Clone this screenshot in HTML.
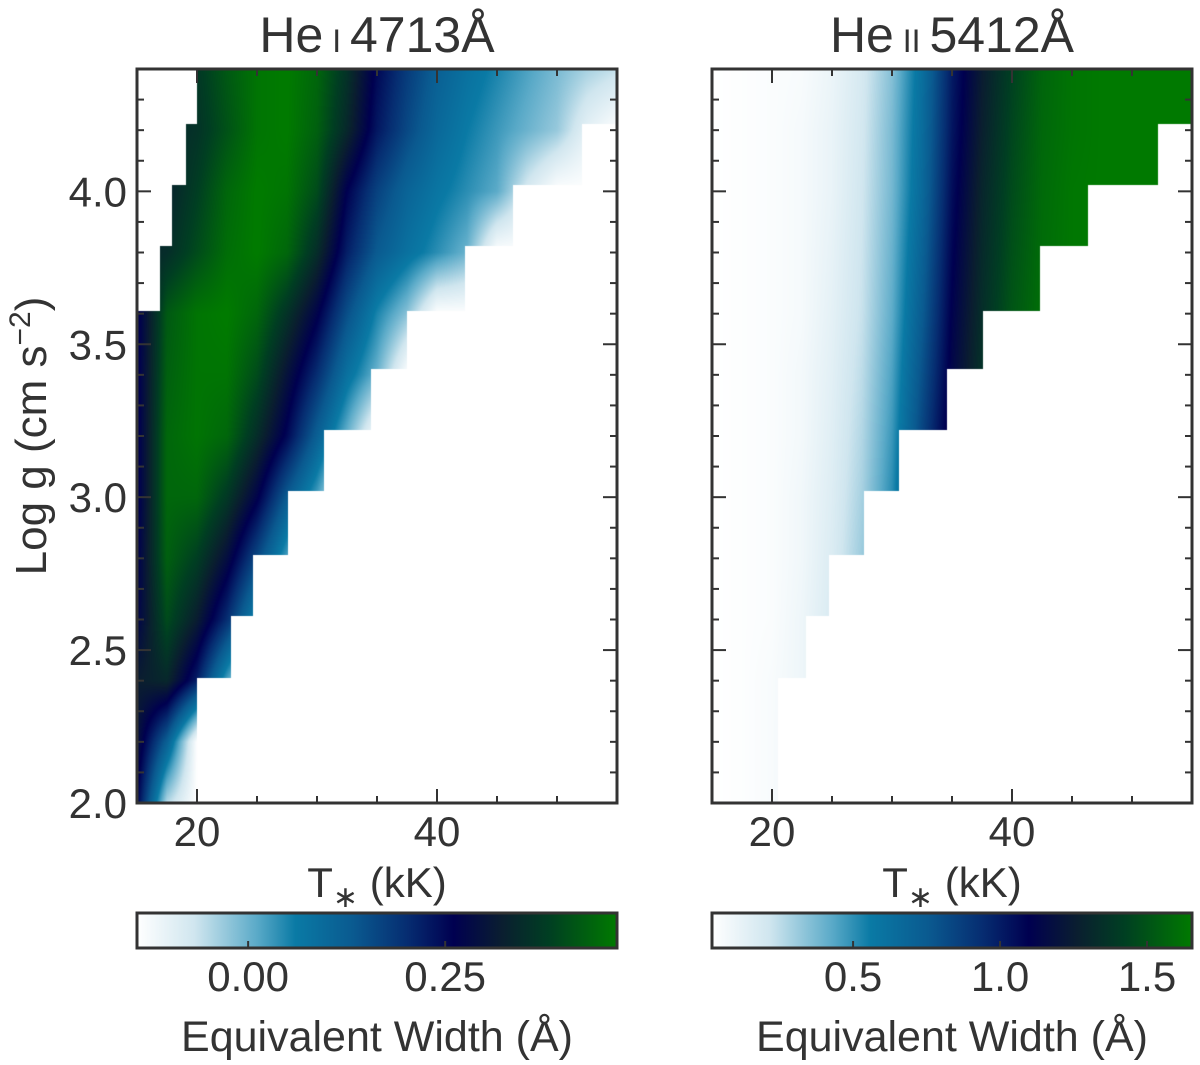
<!DOCTYPE html>
<html><head><meta charset="utf-8">
<style>
html,body{margin:0;padding:0;background:#fff;}
#wrap{position:relative;width:1200px;height:1065px;overflow:hidden;font-family:"Liberation Sans",sans-serif;}
canvas{position:absolute;}
svg{position:absolute;left:0;top:0;}
</style></head>
<body>
<div id="wrap">
<canvas id="cL" width="480" height="734" style="left:137px;top:69px"></canvas>
<canvas id="cR" width="480" height="734" style="left:712px;top:69px"></canvas>
<svg id="svg" width="1200" height="1065" xmlns="http://www.w3.org/2000/svg">
<defs>
<linearGradient id="cmap" x1="0" x2="1" y1="0" y2="0">
<stop offset="0" stop-color="#ffffff"/><stop offset="0.12" stop-color="#d0e6ef"/><stop offset="0.25" stop-color="#5aaac8"/>
<stop offset="0.33" stop-color="#0a7aa5"/><stop offset="0.45" stop-color="#0a5a90"/><stop offset="0.56" stop-color="#062e72"/>
<stop offset="0.66" stop-color="#000050"/><stop offset="0.76" stop-color="#0a1e30"/><stop offset="0.86" stop-color="#003f22"/>
<stop offset="1" stop-color="#007a00"/>
</linearGradient>
</defs>
<g font-family="Liberation Sans, sans-serif" fill="#333">
<text x="377" y="52" font-size="50" text-anchor="middle">He<tspan font-size="32"> I </tspan>4713Å</text>
<text x="952" y="52" font-size="50" text-anchor="middle">He<tspan font-size="32"> II </tspan>5412Å</text>
<text transform="translate(46,436) rotate(-90)" font-size="44" text-anchor="middle">Log g (cm s<tspan dy="-16" font-size="30">−2</tspan><tspan dy="16">)</tspan></text>
<text x="377" y="897" font-size="42" text-anchor="middle">T<tspan dy="10" font-size="30">∗</tspan><tspan dy="-10"> (kK)</tspan></text>
<text x="952" y="897" font-size="42" text-anchor="middle">T<tspan dy="10" font-size="30">∗</tspan><tspan dy="-10"> (kK)</tspan></text>
<text x="377" y="1051" font-size="43" text-anchor="middle">Equivalent Width (Å)</text>
<text x="952" y="1051" font-size="43" text-anchor="middle">Equivalent Width (Å)</text>
</g>
<g id="axes"></g>
</svg>
</div>
<script>
// ---- data ----
const tempsKK = [15,17.5,20,22.5,25,27.5,30,32.5,35,37.5,40,42.5,45,47.5,50,52.5,55];
const loggRows = [2.0,2.2,2.4,2.6,2.8,3.0,3.2,3.4,3.6,3.8,4.0,4.2,4.4];
const ewHeI = [
[0.26,-0.05,-0.14,-0.14,-0.14,-0.14,-0.14,-0.14,-0.14,-0.14,-0.14,-0.14,-0.14,-0.14,-0.14,-0.14,-0.14],
[0.30,0.12,-0.14,-0.14,-0.14,-0.14,-0.14,-0.14,-0.14,-0.14,-0.14,-0.14,-0.14,-0.14,-0.14,-0.14,-0.14],
[0.32,0.34,0.22,0.02,-0.14,-0.14,-0.14,-0.14,-0.14,-0.14,-0.14,-0.14,-0.14,-0.14,-0.14,-0.14,-0.14],
[0.27,0.40,0.32,0.20,0.04,-0.14,-0.14,-0.14,-0.14,-0.14,-0.14,-0.14,-0.14,-0.14,-0.14,-0.14,-0.14],
[0.26,0.43,0.38,0.29,0.16,0.02,-0.14,-0.14,-0.14,-0.14,-0.14,-0.14,-0.14,-0.14,-0.14,-0.14,-0.14],
[0.25,0.44,0.44,0.37,0.27,0.13,0.02,-0.14,-0.14,-0.14,-0.14,-0.14,-0.14,-0.14,-0.14,-0.14,-0.14],
[0.25,0.44,0.46,0.44,0.35,0.25,0.12,0.00,-0.14,-0.14,-0.14,-0.14,-0.14,-0.14,-0.14,-0.14,-0.14],
[0.25,0.43,0.46,0.46,0.40,0.30,0.20,0.08,0.00,-0.14,-0.14,-0.14,-0.14,-0.14,-0.14,-0.14,-0.14],
[0.25,0.42,0.46,0.47,0.44,0.36,0.27,0.15,0.05,-0.02,-0.14,-0.14,-0.14,-0.14,-0.14,-0.14,-0.14],
[0.33,0.35,0.40,0.45,0.47,0.44,0.35,0.22,0.13,0.08,0.04,0.00,-0.14,-0.14,-0.14,-0.14,-0.14],
[0.33,0.33,0.38,0.44,0.47,0.46,0.40,0.26,0.17,0.11,0.07,0.04,0.01,-0.08,-0.14,-0.14,-0.14],
[0.33,0.34,0.36,0.41,0.46,0.47,0.43,0.34,0.23,0.16,0.10,0.06,0.03,0.00,-0.03,-0.10,-0.14],
[0.33,0.34,0.37,0.42,0.46,0.47,0.44,0.36,0.25,0.18,0.12,0.08,0.05,0.02,-0.01,-0.04,-0.06]
];
const ewHeII = [
[0.02,0.03,0.05,0.10,0.20,0.36,0.62,1.00,1.25,1.42,1.55,1.62,1.64,1.65,1.65,1.65,1.65],
[0.02,0.03,0.05,0.10,0.19,0.35,0.60,0.98,1.24,1.41,1.55,1.62,1.64,1.65,1.65,1.65,1.65],
[0.02,0.03,0.05,0.09,0.18,0.34,0.58,0.96,1.23,1.41,1.55,1.62,1.64,1.65,1.65,1.65,1.65],
[0.02,0.03,0.04,0.09,0.18,0.32,0.56,0.94,1.22,1.40,1.54,1.62,1.64,1.65,1.65,1.65,1.65],
[0.02,0.03,0.04,0.08,0.17,0.31,0.54,0.92,1.21,1.40,1.54,1.62,1.64,1.65,1.65,1.65,1.65],
[0.02,0.03,0.04,0.08,0.16,0.29,0.51,0.88,1.19,1.39,1.53,1.62,1.64,1.65,1.65,1.65,1.65],
[0.02,0.03,0.04,0.07,0.15,0.27,0.48,0.84,1.17,1.38,1.53,1.61,1.64,1.65,1.65,1.65,1.65],
[0.02,0.03,0.04,0.07,0.14,0.25,0.45,0.79,1.14,1.36,1.52,1.61,1.64,1.65,1.65,1.65,1.65],
[0.02,0.03,0.04,0.06,0.13,0.23,0.42,0.74,1.11,1.34,1.51,1.61,1.64,1.65,1.65,1.65,1.65],
[0.02,0.03,0.04,0.06,0.12,0.22,0.40,0.70,1.08,1.32,1.49,1.60,1.64,1.65,1.65,1.65,1.65],
[0.02,0.03,0.04,0.06,0.11,0.21,0.38,0.66,1.05,1.30,1.47,1.59,1.64,1.65,1.65,1.65,1.65],
[0.02,0.03,0.04,0.06,0.11,0.20,0.37,0.64,1.02,1.27,1.45,1.58,1.63,1.65,1.65,1.65,1.65],
[0.02,0.03,0.04,0.05,0.10,0.19,0.35,0.62,1.00,1.25,1.43,1.57,1.63,1.65,1.65,1.65,1.65]
];
const bandEdges = [2.0,2.41,2.61,2.81,3.02,3.22,3.42,3.61,3.82,4.02,4.22,4.41];
const heiTmin = [15,15,15,15,15,15,15,16.9,17.9,19.1,20];
const heiTmax = [20,22.8,24.7,27.6,30.6,34.5,37.5,42.3,46.3,52.1,55];
const heiiTmin = [15,15,15,15,15,15,15,15,15,15,15];
const heiiTmax = [20.5,22.8,24.75,27.7,30.6,34.6,37.6,42.3,46.3,52.2,55];
const xTicksMajor = [20,40];
const xTicksMinor = [25,30,35,45,50];
const yTickLabels = ["2.0","2.5","3.0","3.5","4.0"];
const cbLeftTicks = [0.00,0.25];
const cbLeftLabels = ["0.00","0.25"];
const cbRightTicks = [0.5,1.0,1.5];
const cbRightLabels = ["0.5","1.0","1.5"];
const heiRange = [-0.141,0.468];
const heiiRange = [0.02,1.653];

// ---- scales ----
const T0=15,T1=55,G0=2.0,G1=4.4,W=480,H=734;
const px = T => (T-T0)/(T1-T0)*W;
const py = g => H-(g-G0)/(G1-G0)*H;
const xL = T => 137+px(T), xR = T => 712+px(T), yS = g => 69+py(g);

const stops=[[0,"#ffffff"],[0.12,"#d0e6ef"],[0.25,"#5aaac8"],[0.33,"#0a7aa5"],[0.45,"#0a5a90"],[0.56,"#062e72"],[0.66,"#000050"],[0.76,"#0a1e30"],[0.86,"#003f22"],[1,"#007a00"]]
 .map(s=>[s[0],[1,3,5].map(i=>parseInt(s[1].substr(i,2),16))]);
function cmap(f){f=Math.max(0,Math.min(1,f));for(let i=1;i<stops.length;i++){if(f<=stops[i][0]){const a=stops[i-1],b=stops[i],t=(f-a[0])/(b[0]-a[0]);return a[1].map((v,k)=>v+(b[1][k]-v)*t);}}return stops[stops.length-1][1];}
function interp(grid,T,g){
  let ci=(T-tempsKK[0])/(tempsKK[1]-tempsKK[0]), ri=(g-loggRows[0])/(loggRows[1]-loggRows[0]);
  ci=Math.max(0,Math.min(tempsKK.length-1.0001,ci)); ri=Math.max(0,Math.min(loggRows.length-1.0001,ri));
  const c=Math.floor(ci),r=Math.floor(ri),fc=ci-c,fr=ri-r;
  const a=grid[r][c]*(1-fc)+grid[r][c+1]*fc, b=grid[r+1][c]*(1-fc)+grid[r+1][c+1]*fc;
  return a*(1-fr)+b*fr;
}
function drawPanel(id,grid,tmin,tmax,range){
  const ctx=document.getElementById(id).getContext('2d');const img=ctx.createImageData(W,H);
  for(let y=0;y<H;y++){const g=G0+(H-y-0.5)/H*(G1-G0);
    let band=0;while(band<bandEdges.length-2&&g>=bandEdges[band+1])band++;
    for(let x=0;x<W;x++){const T=T0+(x+0.5)/W*(T1-T0);const o=(y*W+x)*4;
      let col=[255,255,255];
      if(T>=tmin[band]&&T<=tmax[band]){const v=interp(grid,T,g);col=cmap((v-range[0])/(range[1]-range[0]));}
      img.data[o]=col[0];img.data[o+1]=col[1];img.data[o+2]=col[2];img.data[o+3]=255;}}
  ctx.putImageData(img,0,0);
}
drawPanel('cL',ewHeI,heiTmin,heiTmax,heiRange);
drawPanel('cR',ewHeII,heiiTmin,heiiTmax,heiiRange);

// ---- axes ----
const NS="http://www.w3.org/2000/svg", axes=document.getElementById('axes');
function mk(tag,attrs,parent){const e=document.createElementNS(NS,tag);for(const k in attrs)e.setAttribute(k,attrs[k]);(parent||axes).appendChild(e);return e;}
function line(x1,y1,x2,y2,w){return mk('line',{x1,y1,x2,y2,stroke:'#333','stroke-width':w||2});}
function panelAxes(x0,xf,labels,prefix){
  for(const T of xTicksMajor){const x=xf(T);
    const t1=line(x,803,x,789);
    
    
    line(x,69,x,83);
    const tx=mk('text',{x:x,y:846,'font-size':42,'text-anchor':'middle',fill:'#333','font-family':'Liberation Sans, sans-serif'});
    tx.textContent=String(T);
    
    }
  for(const T of xTicksMinor){const x=xf(T);line(x,803,x,796);line(x,69,x,76);}
  for(let i=0;i<=24;i++){const g=2.0+i*0.1;const y=yS(g);const major=(i%5===0);const L=major?14:7;
    line(x0,y,x0+L,y);line(x0+480,y,x0+480-L,y);
    if(major&&labels){const tx=mk('text',{x:x0-10,y:y+15,'font-size':42,'text-anchor':'end',fill:'#333','font-family':'Liberation Sans, sans-serif'});
      tx.textContent=yTickLabels[i/5];
      
      }}
  const fr=mk('rect',{x:x0,y:69,width:480,height:734,fill:'none',stroke:'#333','stroke-width':3});
  
  
}
panelAxes(137,xL,true,'left');
panelAxes(712,xR,false,'right');
function colorbar(x0,range,ticks,labels,prefix){
  const r=mk('rect',{x:x0,y:913,width:480,height:35,fill:'url(#cmap)',stroke:'#333','stroke-width':3});
  
  
  ticks.forEach((v,i)=>{const x=x0+(v-range[0])/(range[1]-range[0])*480;
    line(x,948,x,941);
    const tx=mk('text',{x:x,y:991,'font-size':42,'text-anchor':'middle',fill:'#333','font-family':'Liberation Sans, sans-serif'});
    tx.textContent=labels[i];
    
    });
}
colorbar(137,heiRange,cbLeftTicks,cbLeftLabels,'left');
colorbar(712,heiiRange,cbRightTicks,cbRightLabels,'right');
</script>
</body></html>
